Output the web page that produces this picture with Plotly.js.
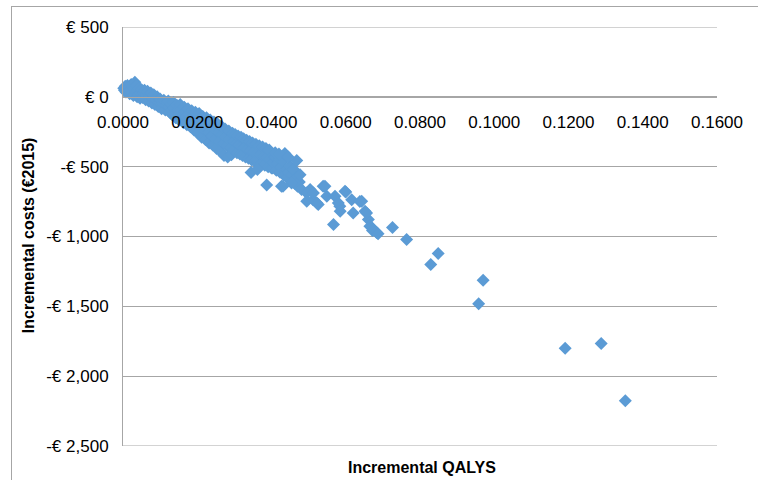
<!DOCTYPE html>
<html>
<head>
<meta charset="utf-8">
<script src="https://cdn.plot.ly/plotly-3.0.1.min.js"></script>
<style>
  html, body { margin: 0; padding: 0; background: #fff; }
  #wrap { position: relative; width: 758px; height: 480px; overflow: hidden; }
  #chart { width: 758px; height: 480px; }
  #frame { position: absolute; left: 11px; top: 6px; width: 800px; height: 500px;
           border-top: 1px solid #a6a6a6; border-left: 1px solid #a6a6a6; pointer-events: none; }
</style>
</head>
<body>
<div id="wrap">
  <div id="chart"></div>
  <div id="frame"></div>
</div>
<script>
// Incremental QALYs per simulation
const qalys = [
  0.0002,0.0004,0.0006,0.0008,0.0010,0.0012,0.0014,0.0016,0.0018,0.0020,
  0.0022,0.0024,0.0026,0.0028,0.0030,0.0032,0.0034,0.0036,0.0038,0.0040,
  0.0042,0.0044,0.0046,0.0048,0.0050,
  0.0053,0.0056,0.0058,0.0061,0.0064,0.0066,0.0069,0.0072,0.0075,0.0078,
  0.0080,0.0083,0.0086,0.0089,0.0092,0.0095,0.0098,0.0100,0.0104,0.0107,
  0.0110,0.0114,0.0117,0.0120,
  0.0122,0.0124,0.0126,0.0129,0.0131,0.0133,0.0136,0.0138,0.0140,0.0142,
  0.0145,0.0147,0.0149,0.0151,0.0154,0.0156,0.0158,0.0160,0.0163,0.0165,
  0.0167,0.0170,0.0172,0.0175,0.0177,0.0180,0.0182,0.0185,0.0187,0.0190,
  0.0192,0.0195,0.0197,0.0200,0.0202,0.0205,0.0207,0.0210,0.0212,
  0.0215,0.0217,0.0220,0.0222,0.0225,0.0227,0.0230,0.0232,0.0235,0.0237,
  0.0240,0.0242,0.0245,0.0247,0.0250,0.0252,0.0255,0.0257,0.0260,0.0262,
  0.0265,0.0267,0.0270,0.0272,0.0275,0.0277,0.0280,0.0282,0.0285,0.0287,
  0.0290,0.0292,0.0295,0.0297,0.0300,
  0.0302,0.0305,0.0307,0.0310,0.0312,0.0315,0.0318,0.0320,0.0322,0.0325,
  0.0327,0.0330,0.0333,0.0335,0.0338,0.0341,0.0343,0.0346,0.0349,0.0352,
  0.0355,0.0358,0.0361,0.0364,0.0367,0.0370,0.0373,0.0376,0.0379,0.0382,
  0.0385,0.0388,0.0391,0.0394,0.0397,0.0400,
  0.0345,0.0387,0.0362,
  0.0403,0.0406,0.0410,0.0413,0.0416,0.0420,0.0423,0.0426,0.0430,0.0433,
  0.0436,0.0440,0.0443,0.0446,0.0450,0.0453,0.0456,0.0460,0.0463,0.0466,
  0.0468,0.0470,0.0427,0.0475,0.0477,0.0454,0.0431,0.0410,0.0420,0.0445,
  0.0481,0.0504,0.0512,0.0526,0.0539,0.0549,0.0571,0.0584,0.0598,0.0616,
  0.0638,0.0620,0.0567,0.0522,0.0495,0.0580,0.0585,0.0544,0.0513,0.0495,
  0.0652,0.0661,0.0656,0.0665,0.0670,0.0672,0.0683,0.0687,0.0643,0.0600,
  0.0726,0.0764,0.0829,0.0849,0.0958,0.0970,0.1191,0.1288,0.1353
];
// Incremental costs (€2015) per simulation
const costs = [
  62,48,75,35,58,82,40,66,22,50,
  88,30,70,10,55,105,35,80,0,45,
  18,62,-10,30,50,
  -5,25,48,-20,12,40,-30,5,28,-45,
  -12,15,-55,-25,0,-70,-40,-15,-85,-50,
  -25,-95,-60,-40,
  -30,-75,-110,-50,-95,-130,-40,-80,-120,-150,
  -60,-100,-135,-165,-55,-90,-125,-160,-185,-75,
  -110,-145,-200,-85,-125,-165,-215,-100,-140,-185,
  -240,-110,-160,-205,-260,-120,-175,-225,-290,
  -140,-190,-240,-305,-150,-205,-255,-330,-165,-220,
  -280,-345,-180,-235,-300,-370,-195,-255,-320,-390,
  -210,-270,-335,-420,-230,-290,-350,-430,-245,-305,
  -365,-415,-260,-320,-380,
  -270,-335,-400,-280,-345,-410,-290,-355,-420,-300,
  -365,-430,-310,-375,-440,-320,-385,-450,-330,-395,
  -465,-340,-405,-470,-350,-415,-480,-360,-425,-490,
  -370,-435,-500,-380,-445,-510,
  -541,-631,-520,
  -510,-470,-430,-525,-480,-445,-540,-500,-460,-560,
  -405,-520,-580,-540,-495,-600,-560,-520,-620,-580,
  -455,-640,-641,-610,-557,-617,-641,-400,-410,-430,
  -664,-664,-736,-771,-641,-712,-712,-783,-676,-736,
  -750,-831,-914,-760,-688,-760,-819,-640,-688,-748,
  -819,-879,-831,-926,-936,-957,-971,-981,-748,-681,
  -936,-1021,-1200,-1121,-1481,-1314,-1800,-1766,-2176
];
// Axis ticks
const xTickVals = [0, 0.02, 0.04, 0.06, 0.08, 0.10, 0.12, 0.14, 0.16];
const xTickText = ["0.0000","0.0200","0.0400","0.0600","0.0800","0.1000","0.1200","0.1400","0.1600"];
const yTickVals = [500, 0, -500, -1000, -1500, -2000, -2500];
const yTickText = ["€ 500","€ 0","-€ 500","-€ 1,000","-€ 1,500","-€ 2,000","-€ 2,500"];
const xTitle = "Incremental QALYS";
const yTitle = "Incremental costs (€2015)";

const FONT = "Liberation Sans, Arial, sans-serif";
const yMin = -2500, yMax = 500;
const GRID = '#a6a6a6';

const trace = {
  type: 'scatter', mode: 'markers',
  x: qalys, y: costs,
  marker: { symbol: 'diamond', size: 10, color: '#5B9BD5', line: { width: 0 } },
  hoverinfo: 'x+y', cliponaxis: false
};

// edge gridlines (top and bottom of the value axis), which Plotly omits at the range ends
const edgeLines = [yMax, yMin].map(v => ({
  type: 'line', xref: 'paper', yref: 'y', x0: 0, x1: 1, y0: v, y1: v,
  line: { color: GRID, width: 1 }, layer: 'below'
}));

const layout = {
  width: 758, height: 480,
  margin: { l: 123, r: 41, t: 27, b: 34, pad: 0 },
  paper_bgcolor: '#ffffff', plot_bgcolor: '#ffffff',
  showlegend: false,
  font: { family: FONT, size: 17, color: '#000000' },
  xaxis: {
    range: [0, 0.16],
    tickvals: xTickVals, ticktext: xTickText,
    showgrid: false, zeroline: false,
    showline: true, linecolor: GRID, linewidth: 1,
    ticks: '', anchor: 'free',
    position: (0 - yMin) / (yMax - yMin),
    ticklabelstandoff: 10,
    tickfont: { family: FONT, size: 17, color: '#000000' }
  },
  yaxis: {
    range: [yMin, yMax],
    tickvals: yTickVals, ticktext: yTickText,
    showgrid: true, gridcolor: GRID, gridwidth: 1,
    zeroline: false,
    showline: true, linecolor: GRID, linewidth: 1,
    ticks: '', ticklabelstandoff: 10,
    tickfont: { family: FONT, size: 17, color: '#000000' }
  },
  shapes: edgeLines,
  annotations: [
    { text: xTitle, xref: 'paper', yref: 'paper', x: 0.503, y: -0.052,
      xanchor: 'center', yanchor: 'middle', showarrow: false,
      font: { family: FONT, size: 16, color: '#000000', weight: 'bold' } },
    { text: yTitle, xref: 'paper', yref: 'paper', x: -0.16, y: 0.503,
      xanchor: 'center', yanchor: 'middle', showarrow: false, textangle: -90,
      font: { family: FONT, size: 16, color: '#000000', weight: 'bold' } }
  ]
};

Plotly.newPlot('chart', [trace], layout, { displayModeBar: false, staticPlot: true });
</script>
</body>
</html>
